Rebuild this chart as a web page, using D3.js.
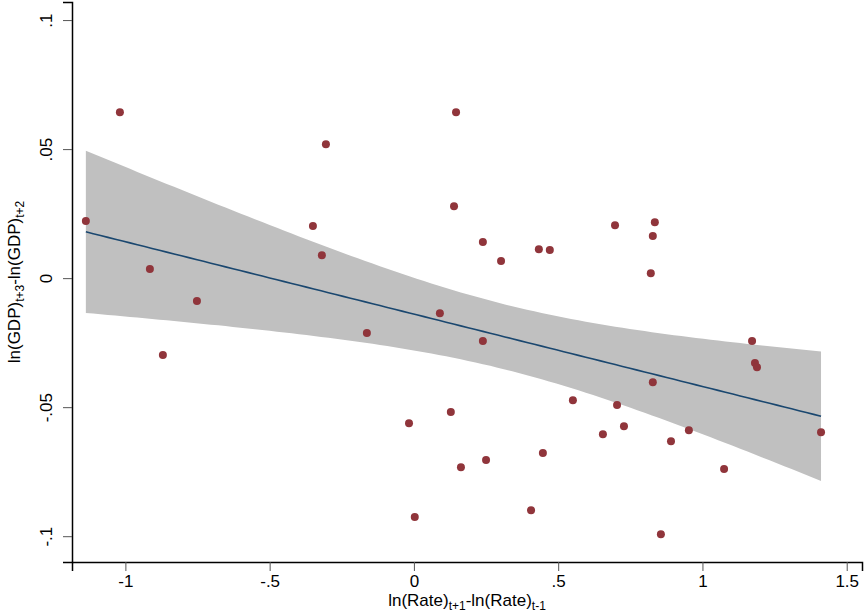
<!DOCTYPE html>
<html><head><meta charset="utf-8">
<script src="https://cdn.jsdelivr.net/npm/d3@7"></script>
<style>body{margin:0;background:#fff}text{font-family:"Liberation Sans",Arial,sans-serif}</style>
</head><body>
<script>
var xs = [-1.137,-1.019,-0.915,-0.870,-0.752,-0.350,-0.319,-0.305,-0.163,-0.017,0.003,0.090,0.128,0.139,0.146,0.163,0.239,0.239,0.250,0.302,0.406,0.433,0.447,0.471,0.551,0.655,0.697,0.704,0.728,0.821,0.828,0.828,0.835,0.856,0.891,0.953,1.075,1.172,1.182,1.189,1.411];
var ys = [0.0221,0.0643,0.0035,-0.0298,-0.0089,0.0202,0.0089,0.0519,-0.0213,-0.0562,-0.0926,-0.0136,-0.0519,0.0279,0.0643,-0.0733,0.0140,-0.0244,-0.0705,0.0066,-0.0899,0.0112,-0.0678,0.0109,-0.0473,-0.0605,0.0205,-0.0492,-0.0574,0.0019,-0.0403,0.0163,0.0217,-0.0992,-0.0632,-0.0589,-0.0740,-0.0244,-0.0329,-0.0345,-0.0597];
var xTicks = [-1,-0.5,0,0.5,1,1.5];
var xLabels = ["-1","-.5","0",".5","1","1.5"];
var yTicks = [-0.1,-0.05,0,0.05,0.1];
var yLabels = ["-.1","-.05","0",".05",".1"];

var W = 866, H = 614;
var svg = d3.select("body").append("svg").attr("width", W).attr("height", H);
var x = d3.scaleLinear().domain([-1.185,1.553]).range([72,862]);
var y = d3.scaleLinear().domain([-0.110,0.107]).range([562,2]);

// OLS fit with 95% CI (as lfitci)
var n = xs.length, mx = d3.mean(xs), my = d3.mean(ys);
var sxx = d3.sum(xs, function(d){return (d-mx)*(d-mx);});
var sxy = d3.sum(xs, function(d,i){return (d-mx)*(ys[i]-my);});
var b = sxy/sxx, a = my - b*mx;
var sse = d3.sum(xs, function(d,i){var r = ys[i]-a-b*d; return r*r;});
var s = Math.sqrt(sse/(n-2)), t = 2.023;
var xmin = d3.min(xs), xmax = d3.max(xs);
var grid = d3.range(0,101).map(function(i){
  var xv = xmin + (xmax-xmin)*i/100;
  var se = s*Math.sqrt(1/n + (xv-mx)*(xv-mx)/sxx);
  var f = a + b*xv;
  return {x:xv, f:f, lo:f-t*se, hi:f+t*se};
});

svg.append("path").datum(grid).attr("fill","#c0c0c0")
  .attr("d", d3.area().x(function(d){return x(d.x);}).y0(function(d){return y(d.lo);}).y1(function(d){return y(d.hi);}));
svg.append("path").datum(grid).attr("fill","none").attr("stroke","#1a476f").attr("stroke-width",1.6)
  .attr("d", d3.line().x(function(d){return x(d.x);}).y(function(d){return y(d.f);}));

svg.selectAll("circle").data(xs).enter().append("circle")
  .attr("cx", function(d){return x(d);}).attr("cy", function(d,i){return y(ys[i]);})
  .attr("r", 4).attr("fill","#90353b");

// axes
var xa = svg.append("g").attr("transform","translate(0,562)")
  .call(d3.axisBottom(x).tickValues(xTicks).tickSize(9).tickFormat(function(d,i){return xLabels[i];}));
var ya = svg.append("g").attr("transform","translate(72,0)")
  .call(d3.axisLeft(y).tickValues(yTicks).tickSize(9).tickFormat(function(d,i){return yLabels[i];}));
svg.selectAll(".domain").attr("stroke","#000").attr("stroke-width",1.5);
svg.selectAll(".tick line").attr("stroke","#555");
xa.selectAll("text").attr("font-size",17).attr("fill","#000").attr("y",11).attr("dy","0.8em");
ya.selectAll(".tick text").attr("font-size",17).attr("fill","#000")
  .attr("x",-20).attr("y",0).attr("dy",0).attr("text-anchor","middle")
  .attr("transform","rotate(-90,-20,0)");

var xt = svg.append("text").attr("x", 467).attr("y", 606).attr("text-anchor","middle").attr("font-size",17);
xt.append("tspan").text("ln(Rate)");
xt.append("tspan").text("t+1").attr("font-size",12).attr("dy",4);
xt.append("tspan").text("-ln(Rate)").attr("dy",-4);
xt.append("tspan").text("t-1").attr("font-size",12).attr("dy",4);

var yt = svg.append("text").attr("transform","translate(20,282) rotate(-90)").attr("text-anchor","middle").attr("font-size",17);
yt.append("tspan").text("ln(GDP)");
yt.append("tspan").text("t+3").attr("font-size",12).attr("dy",4);
yt.append("tspan").text("-ln(GDP)").attr("dy",-4);
yt.append("tspan").text("t+2").attr("font-size",12).attr("dy",4);
</script>
</body></html>
